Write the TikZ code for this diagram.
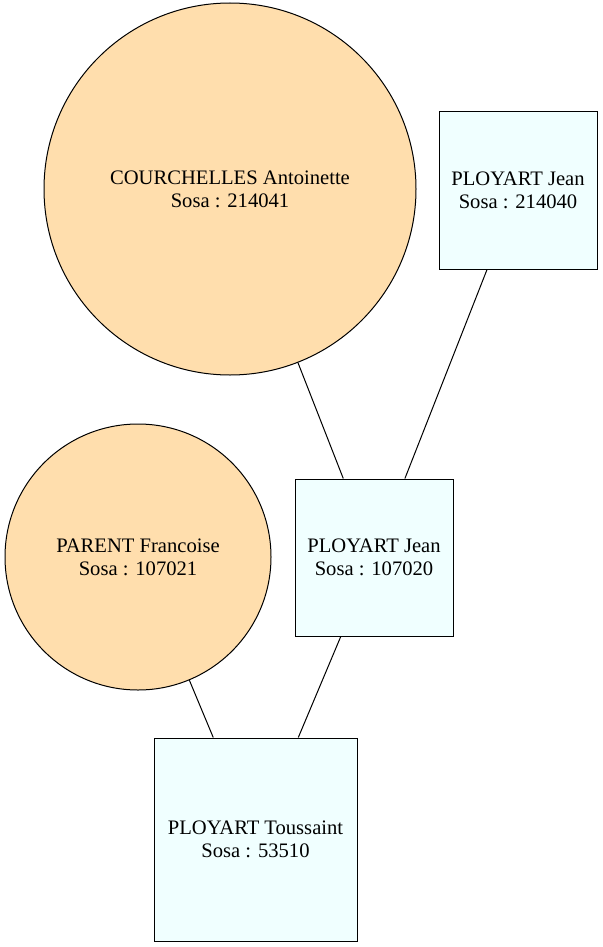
\documentclass[tikz,border=0pt]{standalone}
\usepackage{fontspec}
\setmainfont{Liberation Serif}
\definecolor{peach}{HTML}{FFDEAD}
\definecolor{azurec}{HTML}{F0FFFF}
\begin{document}
\begin{tikzpicture}[x=1pt,y=-1pt,
  every node/.style={font=\fontsize{20.6}{23}\selectfont, align=center, draw=black, line width=1pt, inner sep=0pt},
  woman/.style={circle, fill=peach},
  man/.style={rectangle, fill=azurec},
  link/.style={line width=1pt}]
\useasboundingbox (0,0) rectangle (602,947);
\node[woman, minimum size=372] (c1) at (230,189) {COURCHELLES Antoinette\\Sosa : 214041};
\node[man, minimum width=158, minimum height=157] (b1) at (518,190.5) {PLOYART Jean\\Sosa : 214040};
\node[woman, minimum size=266] (c2) at (138,557) {PARENT Francoise\\Sosa : 107021};
\node[man, minimum width=158, minimum height=157] (b2) at (374,557.5) {PLOYART Jean\\Sosa : 107020};
\node[man, minimum width=203, minimum height=203] (b3) at (255.5,839.5) {PLOYART Toussaint\\Sosa : 53510};
\draw[link] (c1) -- (b2);
\draw[link] (b1) -- (b2);
\draw[link] (c2) -- (b3);
\draw[link] (b2) -- (b3);
\end{tikzpicture}
\end{document}
